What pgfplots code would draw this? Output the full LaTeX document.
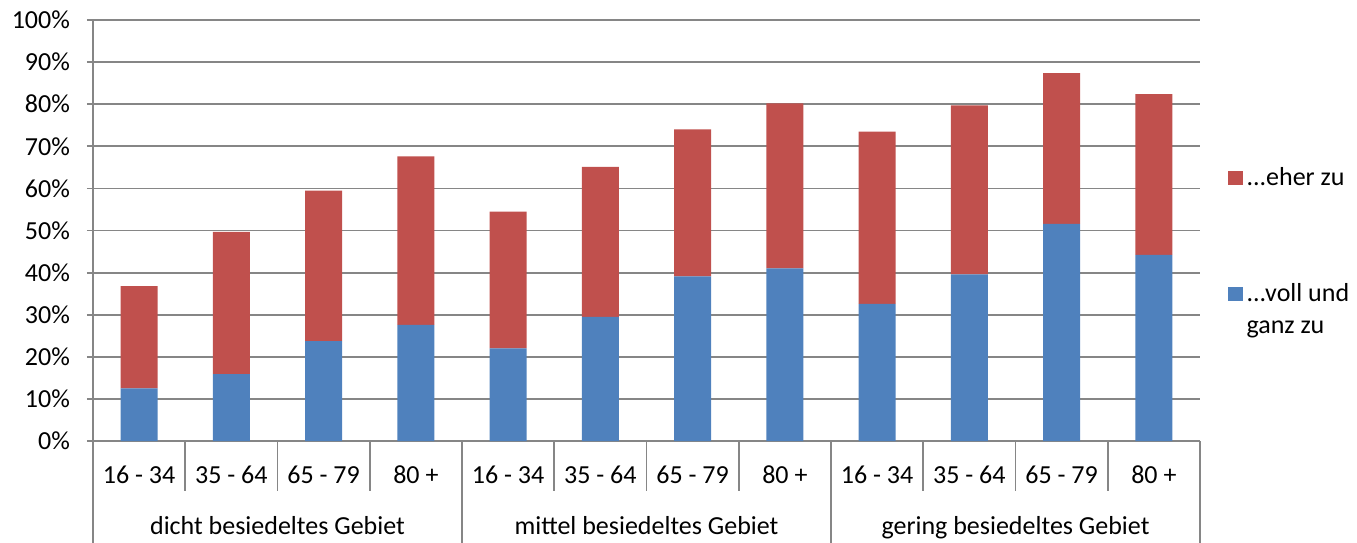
\documentclass[border=0pt]{standalone}
\usepackage{pgfplots}
\pgfplotsset{compat=1.18}
\usepackage{fontspec}
\setmainfont{Carlito}

\definecolor{barblue}{HTML}{4F81BD}
\definecolor{barred}{HTML}{C0504D}
\definecolor{gridgray}{HTML}{868686}

% blue: ...voll und ganz zu, red: ...eher zu
\pgfplotstableread{
x voll eher
0  12.5 24.3
1  15.9 33.8
2  23.7 35.8
3  27.6 40.0
4  22.0 32.5
5  29.5 35.6
6  39.1 34.9
7  41.0 39.2
8  32.6 40.9
9  39.6 40.1
10 51.6 35.8
11 44.2 38.2
}\datatable

\begin{document}
\begin{tikzpicture}
\begin{axis}[
    width=553.5pt, height=210.5pt, scale only axis,
    ybar stacked, bar width=0.4,
    xmin=-0.5, xmax=11.5, ymin=0, ymax=100,
    ytick={0,10,...,100},
    yticklabel={\pgfmathprintnumber{\tick}\%},
    /pgf/number format/assume math mode=true,
    xtick={0,...,11},
    xticklabels={16 - 34,35 - 64,65 - 79,80 +,16 - 34,35 - 64,65 - 79,80 +,16 - 34,35 - 64,65 - 79,80 +},
    x tick style={draw=none},
    y tick style={gridgray, line width=0.9pt},
    tick align=outside, major tick length=3pt,
    ymajorgrids, grid style={gridgray, line width=0.9pt},
    axis x line*=bottom, axis y line*=left,
    axis line style={gridgray, line width=0.9pt, -},
    every tick label/.append style={font=\fontsize{13}{16}\selectfont, text=black},
    yticklabel style={xshift=-5pt},
    xticklabel style={anchor=base, yshift=-18pt},
    clip=false,
    legend image code/.code={\fill[#1] (0pt,0pt) rectangle (7.5pt,7.2pt);},
    reverse legend,
    legend style={at={(rel axis cs:1.0245,0.661)}, anchor=north west,
        draw=none, fill=none, inner sep=0pt, row sep=43.5pt,
        font=\fontsize{13}{16}\selectfont,
        cells={anchor=base west, inner xsep=3.5pt, inner ysep=0pt},
        /tikz/every odd column/.style={column sep=0pt}},
]
\addplot[fill=barblue, draw=none] table[x=x, y=voll] {\datatable};
\addlegendentry{\vtop{\hbox{...voll und}\hbox{ganz zu}}}
\addplot[fill=barred, draw=none] table[x=x, y=eher] {\datatable};
\addlegendentry{...eher zu}

% separators below the axis
\pgfplotsinvokeforeach{0.5,1.5,2.5,4.5,5.5,6.5,8.5,9.5,10.5}{
    \draw[gridgray, line width=0.9pt] (axis cs:#1,0) -- ++(0pt,-25pt);
}
\pgfplotsinvokeforeach{-0.5,3.5,7.5,11.5}{
    \draw[gridgray, line width=0.9pt] (axis cs:#1,0) -- ++(0pt,-51pt);
}
\node[anchor=base, font=\fontsize{13}{16}\selectfont] at ([yshift=-46.8pt]axis cs:1.5,0) {dicht besiedeltes Gebiet};
\node[anchor=base, font=\fontsize{13}{16}\selectfont] at ([yshift=-46.8pt]axis cs:5.5,0) {mittel besiedeltes Gebiet};
\node[anchor=base, font=\fontsize{13}{16}\selectfont] at ([yshift=-46.8pt]axis cs:9.5,0) {gering besiedeltes Gebiet};

\coordinate (bl) at (rel axis cs:0,0);
\coordinate (tr) at (rel axis cs:1,1);
\end{axis}
\pgfresetboundingbox
\path ([shift={(-46.5pt,-50.5pt)}]bl) rectangle ([shift={(78.5pt,10pt)}]tr);
\end{tikzpicture}
\end{document}
